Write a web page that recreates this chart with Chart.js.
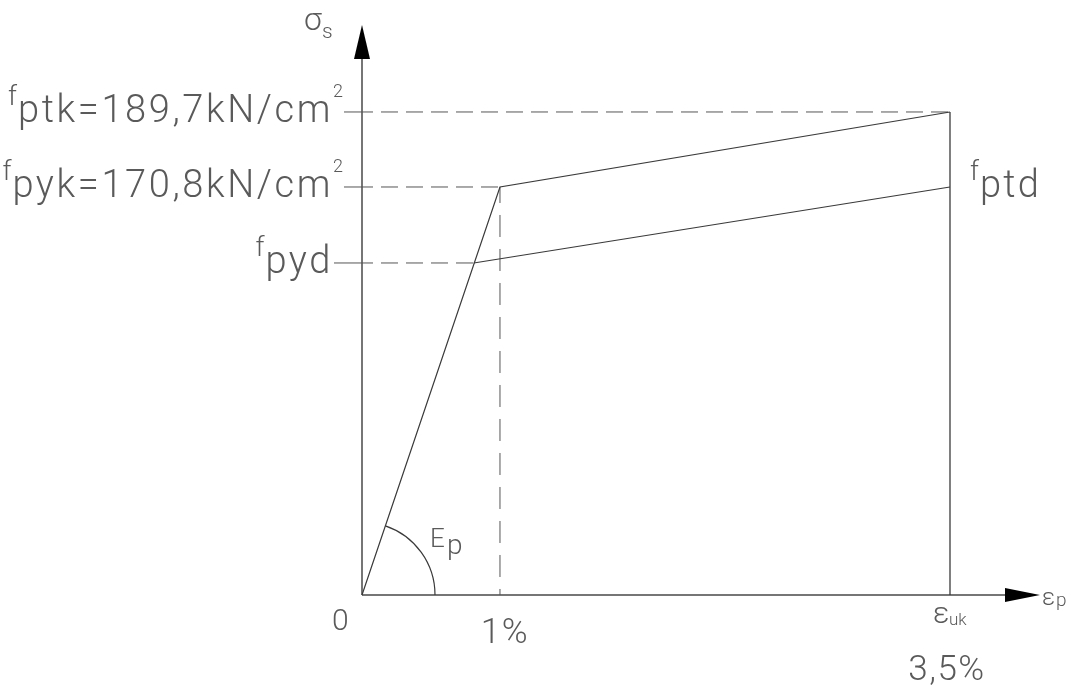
<!DOCTYPE html>
<html>
<head>
<meta charset="utf-8">
<script src="https://cdn.jsdelivr.net/npm/chart.js@4.4.1/dist/chart.umd.min.js"></script>
<style>
  html, body { margin: 0; padding: 0; background: #fff; }
  #wrap { width: 1070px; height: 686px; }
</style>
</head>
<body>
<div id="wrap"><canvas id="diagram"></canvas></div>
<script>
// prestressing steel: stress in kN/cm2, strain in %
var fptk = 189.7;
var fpyk = 170.8;
var fpyd = 148.5;
var fptd = 170.8;
var epsYield = 1;
var epsUk = 3.5;

// characteristic and design curves
var charStrain = [0, 1, 3.5];
var charStress = [0, 170.8, 189.7];
var designStrain = [0, 0.81, 3.5];
var designStress = [0, 148.5, 170.8];

// tick labels
var strainTicks = [0, 1, 3.5];
var strainTickLabels = ['0', '1%', '3,5%'];
var stressTicks = [189.7, 170.8, 148.5];
var stressTickNames = ['ptk', 'pyk', 'pyd'];
var stressTickValues = ['189,7', '170,8', ''];

var FONT = 'Roboto, "DejaVu Sans", sans-serif';
var TEXT = '#5a5a5a';
var INK = '#3a3a3a';

// the drawing is not to scale, so each axis is piecewise linear between stops
var axisStops = {
  x: { values: [0, epsYield, 4], places: [0, 0.2035, 1] },
  y: { values: [0, fpyd, fpyk, fptk, 220], places: [0, 0.5825, 0.7158, 0.8474, 1] }
};

function interp(v, from, to) {
  var n = from.length;
  if (v <= from[0]) return to[0] + (v - from[0]) * (to[1] - to[0]) / (from[1] - from[0]);
  for (var i = 1; i < n; i++) {
    if (v <= from[i]) {
      return to[i - 1] + (v - from[i - 1]) * (to[i] - to[i - 1]) / (from[i] - from[i - 1]);
    }
  }
  return to[n - 2] + (v - from[n - 2]) * (to[n - 1] - to[n - 2]) / (from[n - 1] - from[n - 2]);
}

class PiecewiseScale extends Chart.LinearScale {
  getPixelForValue(value) {
    var s = axisStops[this.id];
    return this.getPixelForDecimal(interp(value, s.values, s.places));
  }
  getValueForPixel(pixel) {
    var s = axisStops[this.id];
    return interp(this.getDecimalForPixel(pixel), s.places, s.values);
  }
}
PiecewiseScale.id = 'piecewise';
PiecewiseScale.defaults = Chart.LinearScale.defaults;
Chart.register(PiecewiseScale);

function pairs(xs, ys) {
  return xs.map(function(x, i) { return { x: x, y: ys[i] }; });
}

function lineSet(data, color, width, dash) {
  return {
    data: data,
    showLine: true,
    borderColor: color,
    borderWidth: width,
    borderDash: dash || [],
    borderDashOffset: dash ? 6 : 0,
    pointRadius: 0,
    fill: false,
    clip: false
  };
}

function text(ctx, str, x, y, size, align, spacing) {
  ctx.font = '300 ' + size + 'px ' + FONT;
  ctx.letterSpacing = (spacing || 0) + 'px';
  ctx.textAlign = align || 'left';
  ctx.textBaseline = 'alphabetic';
  ctx.fillText(str, x, y);
  var w = ctx.measureText(str).width;
  ctx.letterSpacing = '0px';
  return w;
}

function width(ctx, str, size, spacing) {
  ctx.font = '300 ' + size + 'px ' + FONT;
  ctx.letterSpacing = (spacing || 0) + 'px';
  var w = ctx.measureText(str).width;
  ctx.letterSpacing = '0px';
  return w;
}

var axesAndArrows = {
  id: 'axesAndArrows',
  beforeDatasetsDraw: function(chart) {
    var ctx = chart.ctx;
    var ox = chart.scales.x.getPixelForValue(0);
    var oy = chart.scales.y.getPixelForValue(0);
    var top = chart.chartArea.top;
    var right = chart.chartArea.right;
    ctx.save();
    ctx.strokeStyle = '#4a4a4a';
    ctx.lineWidth = 1.5;
    ctx.beginPath();
    ctx.moveTo(ox, oy);
    ctx.lineTo(ox, top + 33);
    ctx.moveTo(ox, oy);
    ctx.lineTo(right - 34, oy);
    ctx.stroke();
    ctx.fillStyle = '#000';
    ctx.beginPath();
    ctx.moveTo(ox, top);
    ctx.lineTo(ox - 8, top + 34);
    ctx.lineTo(ox + 8, top + 34);
    ctx.closePath();
    ctx.fill();
    ctx.beginPath();
    ctx.moveTo(right, oy);
    ctx.lineTo(right - 35, oy - 7);
    ctx.lineTo(right - 35, oy + 7);
    ctx.closePath();
    ctx.fill();
    ctx.restore();
  }
};

var labelsAndArc = {
  id: 'labelsAndArc',
  afterDatasetsDraw: function(chart) {
    var ctx = chart.ctx;
    var xs = chart.scales.x, ys = chart.scales.y;
    var ox = xs.getPixelForValue(0);
    var oy = ys.getPixelForValue(0);
    ctx.save();
    ctx.fillStyle = TEXT;

    // stress labels left of the axis, with a short leader to the axis
    stressTicks.forEach(function(v, i) {
      var py = ys.getPixelForValue(v);
      var main = stressTickNames[i] + (stressTickValues[i] ? '=' + stressTickValues[i] + 'kN/cm' : '');
      var mainRight = ox - 29;
      var mw = width(ctx, main, 38, 2.6);
      var mainLeft = mainRight - mw;
      text(ctx, main, mainLeft, py + 10, 38, 'left', 2.6);
      var end = mainRight;
      if (stressTickValues[i]) {
        end += text(ctx, '2', mainRight, py - 15, 18, 'left');
      }
      text(ctx, 'f', mainLeft - 10, py - 7, 27, 'left');
      ctx.strokeStyle = '#555';
      ctx.lineWidth = 1;
      ctx.beginPath();
      ctx.moveTo(end + 1, py);
      ctx.lineTo(ox, py);
      ctx.stroke();
    });

    // design strength at the ultimate strain
    var ux = xs.getPixelForValue(epsUk);
    var dy = ys.getPixelForValue(fptd);
    text(ctx, 'f', ux + 20, dy - 7, 27, 'left');
    text(ctx, 'ptd', ux + 30, dy + 10, 38, 'left', 2.2);

    // strain labels under the axis
    var strainOffsets = [[-21, 35, 30], [5, 48, 35], [-3, 85, 35]];
    strainTicks.forEach(function(v, i) {
      var px = xs.getPixelForValue(v);
      var o = strainOffsets[i];
      text(ctx, strainTickLabels[i], px + o[0], oy + o[1], o[2], 'center', 1.5);
    });
    text(ctx, '\u03b5', ux - 17, oy + 28, 30, 'left');
    text(ctx, 'uk', ux - 1, oy + 30, 17, 'left');

    // axis titles
    text(ctx, '\u03c3', ox - 58, 30, 32, 'left');
    text(ctx, 's', ox - 40, 38, 21, 'left');
    var right = chart.chartArea.right;
    text(ctx, '\u03b5', right + 2, oy + 10, 24, 'left');
    text(ctx, 'p', right + 16, oy + 11, 19, 'left');

    // modulus arc between the axis and the elastic branch
    var yx = xs.getPixelForValue(epsYield);
    var yy = ys.getPixelForValue(fpyk);
    var ang = Math.atan2(yy - oy, yx - ox);
    ctx.strokeStyle = INK;
    ctx.lineWidth = 1.2;
    ctx.beginPath();
    ctx.arc(ox, oy, 73, ang, 0);
    ctx.stroke();
    text(ctx, 'E', ox + 68, oy - 48, 26, 'left');
    text(ctx, 'p', ox + 85, oy - 41, 28, 'left');
    ctx.restore();
  }
};

var ctx = document.getElementById('diagram').getContext('2d');
var diagram = new Chart(ctx, {
  type: 'scatter',
  data: {
    datasets: [
      lineSet(pairs(charStrain, charStress), INK, 1.2),
      lineSet(pairs(designStrain.slice(1), designStress.slice(1)), INK, 1.2),
      lineSet([{ x: epsUk, y: 0 }, { x: epsUk, y: fptk }], INK, 1.3),
      lineSet([{ x: 0, y: fptk }, { x: epsUk, y: fptk }], '#555', 1, [17, 8]),
      lineSet([{ x: 0, y: fpyk }, { x: epsYield, y: fpyk }], '#555', 1, [17, 8]),
      lineSet([{ x: 0, y: fpyd }, { x: designStrain[1], y: fpyd }], '#555', 1, [17, 8]),
      lineSet([{ x: epsYield, y: fpyk }, { x: epsYield, y: 0 }], '#555', 1, [22, 12])
    ]
  },
  options: {
    responsive: true,
    maintainAspectRatio: false,
    animation: false,
    events: [],
    layout: { padding: { left: 362, right: 30, top: 25, bottom: 91 } },
    scales: {
      x: { type: 'piecewise', min: 0, max: 4, display: false },
      y: { type: 'piecewise', min: 0, max: 220, display: false }
    },
    plugins: {
      legend: { display: false },
      tooltip: { enabled: false }
    }
  },
  plugins: [axesAndArrows, labelsAndArc]
});
</script>
</body>
</html>
